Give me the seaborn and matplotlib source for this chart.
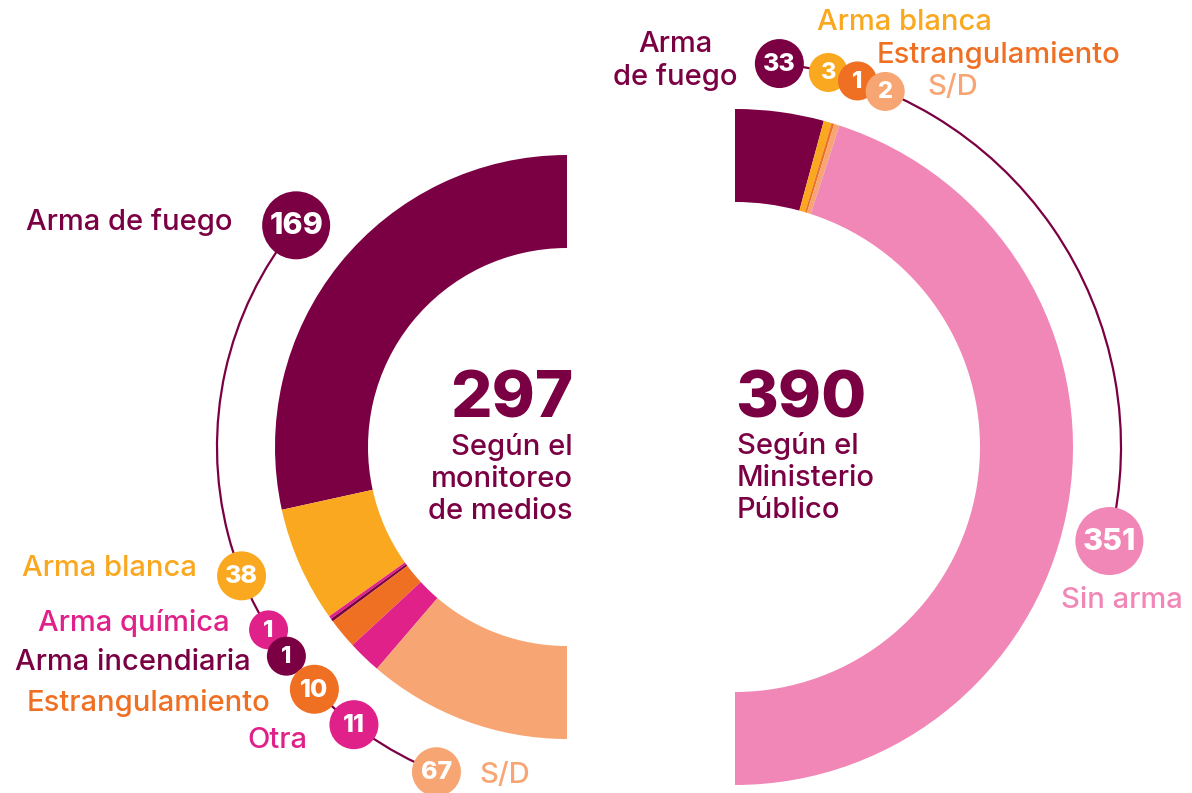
import numpy as np
import matplotlib.pyplot as plt
from matplotlib.patches import Circle, Arc
import seaborn as sns

sns.set_theme(style="white")
plt.rcParams['font.family'] = ['Inter', 'DejaVu Sans']

W, H = 1192, 793

PURPLE = '#7b0043'
YELLOW = '#f9a81f'
MAGENTA = '#e0218a'
ORANGE = '#f07023'
PEACH = '#f7a673'
PINK = '#f187b6'

# datos: monitoreo de medios
medios_cat = ['Arma de fuego', 'Arma blanca', 'Arma química', 'Arma incendiaria',
              'Estrangulamiento', 'Otra', 'S/D']
medios_val = [169, 38, 1, 1, 10, 11, 67]
medios_col = [PURPLE, YELLOW, MAGENTA, PURPLE, ORANGE, MAGENTA, PEACH]

# datos: Ministerio Público
mp_cat = ['Arma\nde fuego', 'Arma blanca', 'Estrangulamiento', 'S/D', 'Sin arma']
mp_val = [33, 3, 1, 2, 351]
mp_col = [PURPLE, YELLOW, ORANGE, PEACH, PINK]

# layout (pixels, y measured from top)
left_c = (567, 447)
left_r = 292
left_ring = 350
left_ang = [140.7, 201.6, 211.5, 216.7, 223.8, 232.5, 248.1]
left_txt = [(233, 222, 'right'), (197, 568, 'right'), (230, 623, 'right'),
            (251, 662, 'right'), (270, 703, 'right'), (307, 740, 'right'),
            (479, 775, 'left')]

right_c = (735, 447)
right_r = 338
right_ring = 386
right_ang = [83.4, 76.0, 71.5, 67.1, -14.1]
right_txt = [(675, 61, 'center'), (904, 23, 'center'), (877, 55, 'left'),
             (927, 88, 'left'), (1122, 600, 'center')]

ring_w = 93

fig = plt.figure(figsize=(W / 100, H / 100), dpi=100)
ax = fig.add_axes([0, 0, 1, 1])


def Y(y):
    return H - y


def half_donut(vals, cols, center, radius, ccw):
    total = sum(vals)
    wedges, _ = ax.pie(vals + [total], colors=cols + ['white'], startangle=90,
                       counterclock=ccw, radius=radius,
                       center=(center[0], Y(center[1])),
                       wedgeprops=dict(width=ring_w, linewidth=0))
    wedges[-1].set_visible(False)
    return total


def badges(vals, cols, cats, center, ring, angles, txt):
    cx, cy = center[0], Y(center[1])
    a0, a1 = min(angles), max(angles)
    ax.add_patch(Arc((cx, cy), 2 * ring, 2 * ring, theta1=a0, theta2=a1,
                     color=PURPLE, lw=1.6, zorder=2))
    for v, c, cat, a, (tx, ty, ha) in zip(vals, cols, cats, angles, txt):
        nd = len(str(v))
        r = {1: 19.5, 2: 24.5, 3: 34}[nd]
        fs = {1: 17, 2: 18, 3: 22}[nd]
        px = cx + ring * np.cos(np.radians(a))
        py = cy + ring * np.sin(np.radians(a))
        ax.add_patch(Circle((px, py), r, color=c, lw=0, zorder=3))
        ax.text(px, py - 1, str(v), color='white', fontsize=fs, fontweight='heavy',
                ha='center', va='center', zorder=4)
        ax.text(tx, Y(ty), cat, color=c, fontsize=21, fontweight='medium',
                ha=ha, va='center', linespacing=1.2, multialignment='center')


t1 = half_donut(medios_val, medios_col, left_c, left_r, True)
t2 = half_donut(mp_val, mp_col, right_c, right_r, False)

badges(medios_val, medios_col, medios_cat, left_c, left_ring, left_ang, left_txt)
badges(mp_val, mp_col, mp_cat, right_c, right_ring, right_ang, right_txt)

ax.text(573, Y(400), str(t1), color=PURPLE, fontsize=47, fontweight='heavy',
        ha='right', va='center')
ax.text(573, Y(479), 'Según el\nmonitoreo\nde medios', color=PURPLE, fontsize=21,
        fontweight='medium', ha='right', va='center', linespacing=1.22)
ax.text(735, Y(400), str(t2), color=PURPLE, fontsize=47, fontweight='heavy',
        ha='left', va='center')
ax.text(737, Y(478), 'Según el\nMinisterio\nPúblico', color=PURPLE, fontsize=21,
        fontweight='medium', ha='left', va='center', linespacing=1.22)

ax.set_xlim(0, W)
ax.set_ylim(0, H)
ax.set_aspect('equal')
ax.axis('off')

fig.savefig('out.png', dpi=100, facecolor='white')
